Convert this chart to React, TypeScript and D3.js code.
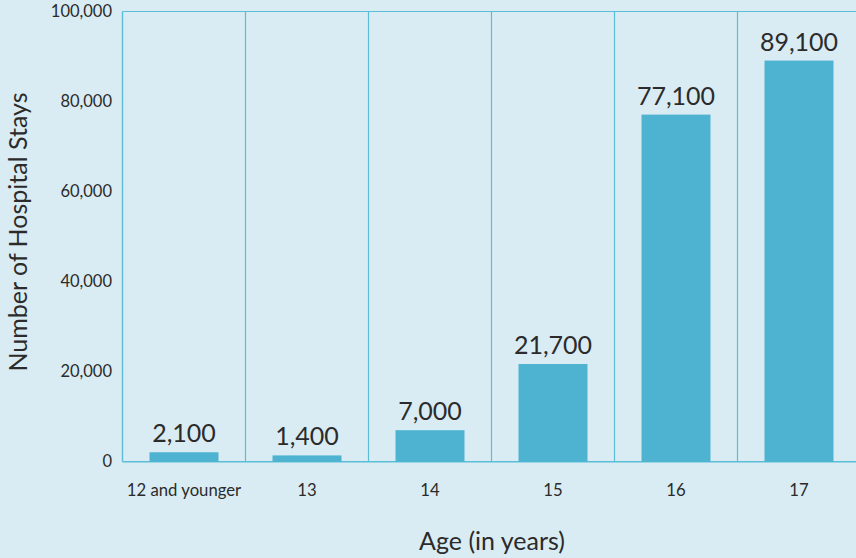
import React from "react";
import * as d3 from "d3";

const categories = ["12 and younger", "13", "14", "15", "16", "17"];
const values = [2100, 1400, 7000, 21700, 77100, 89100];
const yTicks = [0, 20000, 40000, 60000, 80000, 100000];

export default function App() {
  const W = 856, H = 558;
  const left = 122.5, top = 11.5, bottom = 461.7;
  const step = 123;
  const x = d3.scaleBand<string>().domain(categories).range([left, left + step * categories.length]).paddingInner(0).paddingOuter(0);
  const y = d3.scaleLinear().domain([0, 100000]).range([bottom, top]);
  const barW = 69;
  const fmt = d3.format(",");
  const font = "Lato, 'Open Sans', sans-serif";
  const text = "#2b2b2b";
  const line = "#5bbdd6";
  return (
    <div style={{ position: "fixed", left: 0, top: 0 }}>
      <svg width={W} height={H} style={{ display: "block", background: "#daecf3" }} fontFamily={font}>
        <line x1={left} x2={W} y1={top} y2={top} stroke={line} strokeWidth={1.2} />
        <line x1={left} x2={W} y1={bottom} y2={bottom} stroke={line} strokeWidth={1.6} />
        <line x1={left} x2={left} y1={top} y2={bottom} stroke={line} strokeWidth={1.4} />
        {categories.slice(1).map((c) => (
          <line key={c} x1={x(c)!} x2={x(c)!} y1={top} y2={bottom} stroke={line} strokeWidth={1.2} />
        ))}
        {yTicks.map((t) => (
          <text key={t} x={112} y={y(t)} dy="0.35em" textAnchor="end" fontSize={16.5} fill={text}>
            {fmt(t)}
          </text>
        ))}
        {categories.map((c, i) => {
          const cx = x(c)! + x.bandwidth() / 2;
          return (
            <g key={c}>
              <rect x={cx - barW / 2} y={y(values[i])} width={barW} height={bottom - y(values[i])} fill="#4eb3d1" />
              <text x={cx} y={y(values[i]) - 10} textAnchor="middle" fontSize={25} fill={text}>
                {fmt(values[i])}
              </text>
              <text x={cx} y={490} dy="0.35em" textAnchor="middle" fontSize={16.7} fill={text}>
                {c}
              </text>
            </g>
          );
        })}
        <text x={492} y={541} dy="0.35em" textAnchor="middle" fontSize={25} fill={text}>
          Age (in years)
        </text>
        <text transform="translate(18,232) rotate(-90)" textAnchor="middle" dy="0.35em" fontSize={25} fill={text}>
          Number of Hospital Stays
        </text>
      </svg>
    </div>
  );
}
